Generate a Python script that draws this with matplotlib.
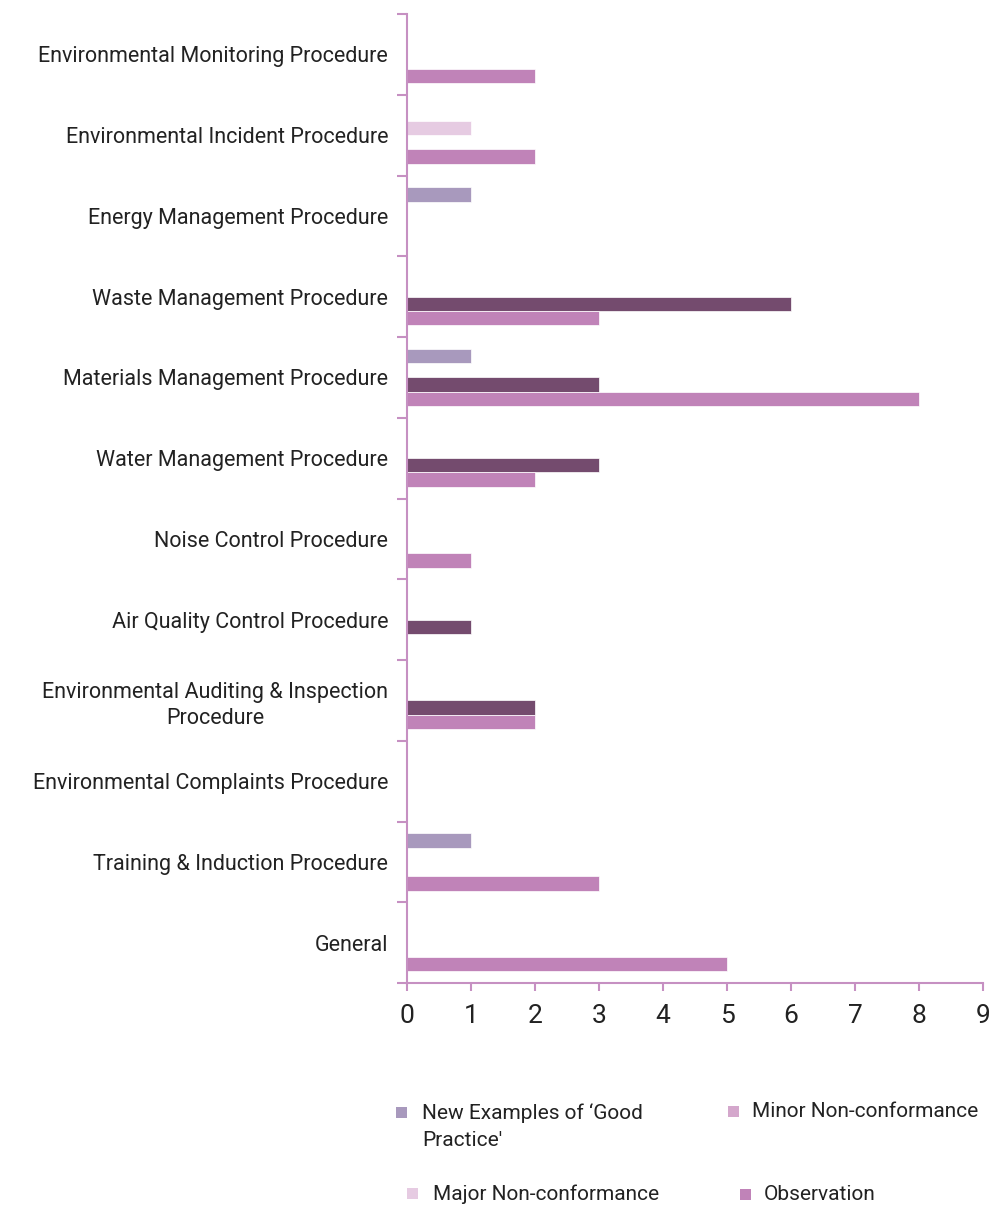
import matplotlib.pyplot as plt
from matplotlib.patches import Rectangle
import numpy as np

plt.rcParams['font.family'] = ['Roboto', 'DejaVu Sans']

categories = ['Environmental Monitoring Procedure',
              'Environmental Incident Procedure',
              'Energy Management Procedure',
              'Waste Management Procedure',
              'Materials Management Procedure',
              'Water Management Procedure',
              'Noise Control Procedure',
              'Air Quality Control Procedure',
              'Environmental Auditing & Inspection\nProcedure',
              'Environmental Complaints Procedure',
              'Training & Induction Procedure',
              'General']

good_practice = [0, 0, 1, 0, 1, 0, 0, 0, 0, 0, 1, 0]
major_nc = [0, 1, 0, 0, 0, 0, 0, 0, 0, 0, 0, 0]
minor_nc = [0, 0, 0, 6, 3, 3, 0, 1, 2, 0, 0, 0]
observation = [2, 2, 0, 3, 8, 2, 1, 0, 2, 0, 3, 5]

# name, values, bar colour, legend colour
series = [("New Examples of \u2018Good\nPractice'", good_practice, '#a899bd', '#a899bd'),
          ('Major Non-conformance', major_nc, '#e6cbe2', '#e6cbe2'),
          ('Minor Non-conformance', minor_nc, '#744b6e', '#d4a7cc'),
          ('Observation', observation, '#c083b8', '#c083b8')]

axis_col = '#c690c2'
text_col = '#222222'
W, H = 991, 1210

fig = plt.figure(figsize=(W / 100, H / 100), dpi=100)
ax = fig.add_axes([407 / W, 1 - 983 / H, 576 / W, 969 / H])

y = np.arange(len(categories))
h = 0.178
offsets = [-1.5 * h, -0.5 * h, 0.5 * h, 1.5 * h]
for (name, vals, col, _), off in zip(series, offsets):
    ax.barh(y + off, vals, height=h, color=col, edgecolor='white', linewidth=0.5)

ax.set_xlim(0, 9)
ax.set_ylim(len(categories) - 0.5, -0.5)
ax.set_xticks(range(10))
ax.tick_params(axis='x', direction='out', length=6, width=1.5, color=axis_col,
               labelsize=19, pad=9, labelcolor=text_col)

ax.set_yticks(np.arange(-0.5, len(categories)), labels=[])
ax.set_yticks(y, labels=categories, minor=True)
ax.tick_params(axis='y', which='major', direction='out', length=7, width=1.5, color=axis_col)
ax.tick_params(axis='y', which='minor', length=0, pad=13.5, labelsize=15.5, labelcolor=text_col)
for t in ax.get_yticklabels(minor=True):
    t.set_horizontalalignment('right')
    t.set_multialignment('center')
    t.set_linespacing(1.35)

for s in ['top', 'right']:
    ax.spines[s].set_visible(False)
for s in ['left', 'bottom']:
    ax.spines[s].set_color(axis_col)
    ax.spines[s].set_linewidth(1.5)

# legend laid out by hand, like the original
leg_pos = [(401.5, 1112.5, 422), (412.5, 1193.5, 433), (733, 1111, 752), (745, 1194, 764)]
sq = 11
for (name, _, _, lc), (sx, sy, tx) in zip(series, leg_pos):
    fig.add_artist(Rectangle(((sx - sq / 2) / W, 1 - (sy + sq / 2) / H), sq / W, sq / H,
                             transform=fig.transFigure, facecolor=lc, edgecolor='none'))
    fig.text(tx / W, 1 - (sy - 9) / H, name, fontsize=15, color=text_col,
             ha='left', va='top', linespacing=1.5)

fig.savefig('out.png', dpi=100)
